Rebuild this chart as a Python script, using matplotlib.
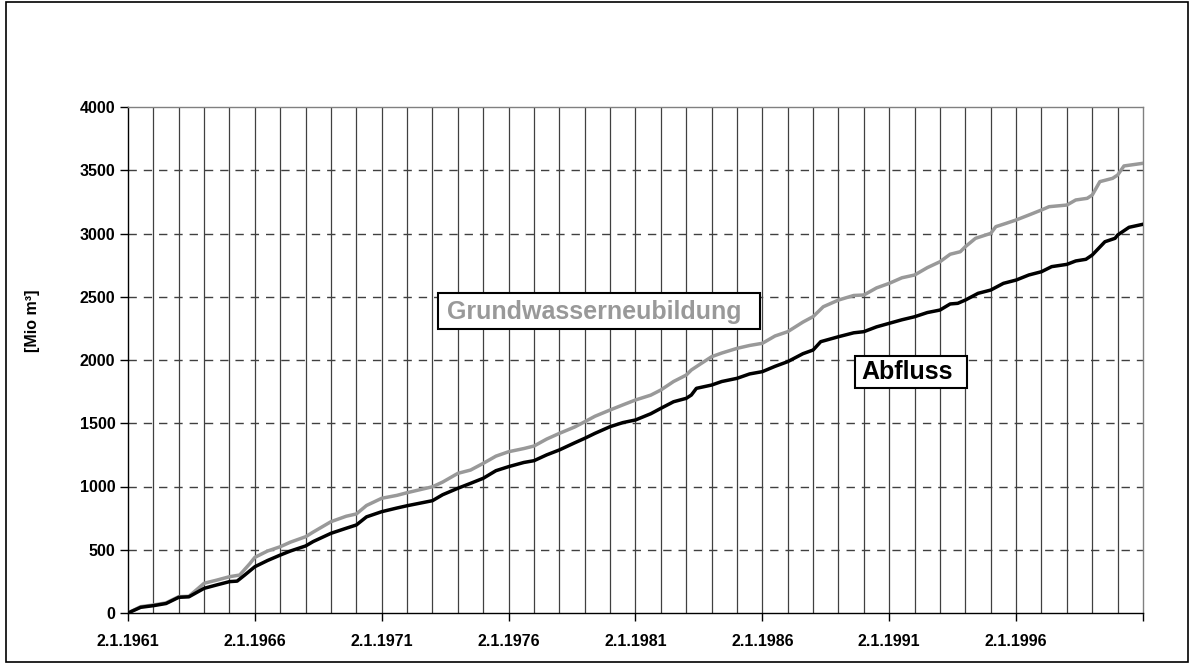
import matplotlib
matplotlib.use("Agg")
import matplotlib.pyplot as plt
from matplotlib.patches import Rectangle
import numpy as np

plt.rcParams['font.family'] = ['Liberation Sans', 'DejaVu Sans']

# time in decimal years
years_gw = [1961, 1961.5, 1962, 1962.5, 1963, 1963.4, 1964, 1964.5, 1965, 1965.4, 1965.8, 1966, 1966.5, 1967,
            1967.4, 1968, 1968.3, 1969, 1969.6, 1970, 1970.4, 1971, 1971.6, 1972, 1973, 1973.4, 1974, 1974.5,
            1975, 1975.5, 1976, 1976.6, 1977, 1977.5, 1978, 1978.6, 1979, 1979.4, 1980, 1980.5, 1981, 1981.6,
            1982, 1982.5, 1983, 1983.2, 1983.6, 1984, 1984.4, 1985, 1985.5, 1986, 1986.5, 1987, 1987.6,
            1988, 1988.4, 1989, 1989.6, 1990, 1990.5, 1991, 1991.5, 1992, 1992.5, 1993, 1993.4, 1993.8,
            1994, 1994.4, 1995, 1995.2, 1995.6, 1996, 1996.5, 1997, 1997.3, 1998, 1998.35, 1998.8, 1999,
            1999.3, 1999.8, 2000, 2000.25, 2001]
grundwasser = [0, 50, 63, 80, 129, 132, 235, 260, 287, 300, 390, 440, 490, 524, 560, 603, 640, 722, 765, 783,
               850, 907, 930, 951, 998, 1035, 1104, 1130, 1183, 1240, 1275, 1300, 1320, 1375, 1420, 1470, 1512,
               1555, 1605, 1645, 1684, 1722, 1763, 1830, 1881, 1921, 1974, 2026, 2055, 2092, 2115, 2132, 2190,
               2224, 2300, 2343, 2421, 2474, 2510, 2514, 2570, 2606, 2650, 2672, 2730, 2777, 2836, 2856,
               2896, 2962, 3001, 3054, 3080, 3107, 3146, 3186, 3212, 3225, 3265, 3278, 3304,
               3410, 3436, 3462, 3534, 3555]

years_q = [1961, 1961.5, 1962, 1962.5, 1963, 1963.4, 1964, 1964.5, 1965, 1965.3, 1965.6, 1966, 1966.5, 1967,
           1967.4, 1968, 1968.3, 1969, 1969.6, 1970, 1970.4, 1971, 1971.6, 1972, 1973, 1973.4, 1974, 1974.5,
           1975, 1975.5, 1976, 1976.6, 1977, 1977.5, 1978, 1978.6, 1979, 1979.4, 1980, 1980.5, 1981, 1981.6,
           1982, 1982.5, 1983, 1983.2, 1983.4, 1984, 1984.4, 1985, 1985.5, 1986, 1986.5, 1987, 1987.6,
           1988, 1988.3, 1989, 1989.6, 1990, 1990.5, 1991, 1991.5, 1992, 1992.5, 1993, 1993.4, 1993.7,
           1994, 1994.5, 1995, 1995.5, 1996, 1996.5, 1997, 1997.4, 1998, 1998.35, 1998.75, 1999,
           1999.5, 1999.9, 2000, 2000.45, 2001]
abfluss = [0, 45, 58, 75, 124, 128, 195, 222, 248, 252, 300, 366, 415, 458, 490, 530, 565, 630, 670, 696,
           760, 801, 830, 848, 888, 935, 986, 1025, 1065, 1125, 1157, 1190, 1204, 1250, 1289, 1345, 1381,
           1420, 1473, 1505, 1526, 1575, 1618, 1670, 1697, 1723, 1776, 1802, 1830, 1855, 1890, 1908, 1950,
           1987, 2050, 2079, 2145, 2184, 2215, 2224, 2262, 2290, 2318, 2342, 2375, 2395, 2443, 2448,
           2474, 2527, 2553, 2606, 2632, 2672, 2698, 2738, 2756, 2783, 2796, 2830,
           2935, 2962, 2988, 3049, 3073]

tick_years = [1961, 1966, 1971, 1976, 1981, 1986, 1991, 1996, 2001]
tick_labels = ['2.1.1961', '2.1.1966', '2.1.1971', '2.1.1976', '2.1.1981', '2.1.1986', '2.1.1991', '2.1.1996', '']
y_ticks = [0, 500, 1000, 1500, 2000, 2500, 3000, 3500, 4000]

fig = plt.figure(figsize=(11.94, 6.64), dpi=100)
ax = fig.add_axes([128/1194, 1-613/664, (1143-128)/1194, (613-107)/664])

# grid
for yv in y_ticks[1:-1]:
    ax.axhline(yv, color='#404040', lw=1.0, ls=(0, (6, 5)), zorder=1)
for yr in range(1962, 2001):
    ax.axvline(yr, color='#404040', lw=0.9, zorder=1)

ax.plot(years_gw, grundwasser, color='#999999', lw=2.5, zorder=3, solid_joinstyle='round')
ax.plot(years_q, abfluss, color='black', lw=2.5, zorder=4, solid_joinstyle='round')

ax.set_xlim(1961, 2001)
ax.set_ylim(0, 4000)
ax.set_xticks(tick_years)
ax.set_xticklabels(tick_labels)
ax.set_yticks(y_ticks)
ax.tick_params(axis='both', direction='out', length=6, width=1, labelsize=11.5)
ax.tick_params(axis='x', pad=9)
ax.tick_params(axis='y', pad=3)
for lab in ax.get_xticklabels() + ax.get_yticklabels():
    lab.set_fontweight('bold')

ax.spines['left'].set_color('black')
ax.spines['bottom'].set_color('black')
ax.spines['top'].set_color('#808080')
ax.spines['right'].set_color('#808080')
for s in ax.spines.values():
    s.set_linewidth(1.0)

ax.set_ylabel('[Mio m³]', fontsize=11.5, fontweight='bold')
ax.yaxis.set_label_coords(-0.0867, 0.577)

# label boxes (axes fraction)
ax.add_patch(Rectangle((0.3054, 0.5613), 0.3173, 0.0711, transform=ax.transAxes,
                       fc='white', ec='black', lw=1.5, zorder=5))
ax.text(0.4591, 0.5955, 'Grundwasserneubildung', transform=ax.transAxes, color='#999999',
        fontsize=18, fontweight='bold', ha='center', va='center', zorder=6)
ax.add_patch(Rectangle((0.7163, 0.4447), 0.1103, 0.0632, transform=ax.transAxes,
                       fc='white', ec='black', lw=1.5, zorder=5))
ax.text(0.768, 0.477, 'Abfluss', transform=ax.transAxes, color='black',
        fontsize=18, fontweight='bold', ha='center', va='center', zorder=6)

fig.patches.append(Rectangle((6/1194, 2/664), 1182/1194, 660/664, transform=fig.transFigure,
                             fill=False, ec='black', lw=1.2))

fig.savefig('out.png', dpi=100)
